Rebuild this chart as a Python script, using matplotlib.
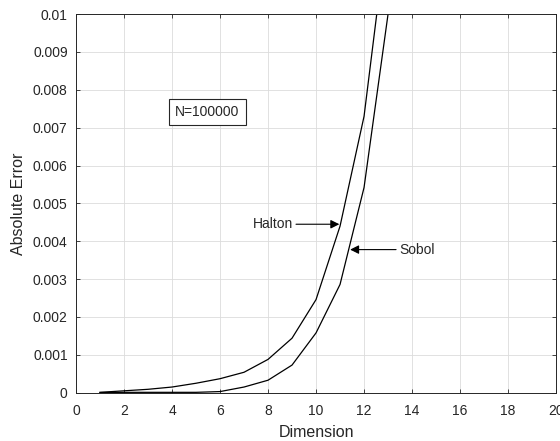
import matplotlib
matplotlib.use("Agg")
import matplotlib.pyplot as plt

plt.rcParams["font.family"] = ["Liberation Sans", "DejaVu Sans"]

# valores (erro absoluto por dimensao, N=100000)
dimensao = [1, 2, 3, 4, 5, 6, 7, 8, 9, 10, 11, 12, 13]
erro_halton = [0.00001, 0.00005, 0.00009, 0.00015, 0.00025, 0.00037, 0.00054,
               0.00088, 0.00144, 0.00246, 0.0044, 0.0073, 0.0124]
erro_sobol = [0.000005, 0.00001, 0.00001, 0.00001, 0.00001, 0.00003, 0.00015,
              0.00033, 0.00073, 0.00158, 0.00286, 0.00542, 0.0100]

xticks = [0, 2, 4, 6, 8, 10, 12, 14, 16, 18, 20]
yticks = [0, 0.001, 0.002, 0.003, 0.004, 0.005, 0.006, 0.007, 0.008, 0.009, 0.01]
ytick_labels = ["0", "0.001", "0.002", "0.003", "0.004", "0.005", "0.006",
                "0.007", "0.008", "0.009", "0.01"]

ESCURO = "#262626"

fig = plt.figure(figsize=(5.6, 4.41), dpi=100)
ax = fig.add_axes([0.1357, 0.1095, 0.8573, 0.8585])

ax.plot(dimensao, erro_halton, color="black", linewidth=0.9)
ax.plot(dimensao, erro_sobol, color="black", linewidth=0.9)

ax.set_xlim(0, 20)
ax.set_ylim(0, 0.01)
ax.set_xticks(xticks)
ax.set_yticks(yticks)
ax.set_yticklabels(ytick_labels)
ax.grid(True, color="#dcdcdc", linewidth=0.6)
ax.set_axisbelow(True)
ax.tick_params(direction="in", top=True, right=True, length=3,
               labelsize=10, colors=ESCURO, width=0.6, pad=6)
ax.tick_params(axis="x", pad=8)
for s in ax.spines.values():
    s.set_color(ESCURO)
    s.set_linewidth(0.7)

ax.set_xlabel("Dimension", fontsize=11.5, color=ESCURO, labelpad=5)
ax.set_ylabel("Absolute Error", fontsize=11.5, color=ESCURO, labelpad=5)

ax.text(5.48, 0.00742, "N=100000", ha="center", va="center", fontsize=10,
        color=ESCURO,
        bbox=dict(boxstyle="square,pad=0.45", facecolor="white",
                  edgecolor=ESCURO, linewidth=0.8))

seta = dict(arrowstyle="-|>", color="black", linewidth=0.8,
            mutation_scale=13, shrinkA=0, shrinkB=0)
ax.annotate("Halton", xy=(10.97, 0.00445), xytext=(9.05, 0.00445),
            ha="right", va="center", fontsize=10, color=ESCURO,
            arrowprops=seta)
ax.annotate("Sobol", xy=(11.42, 0.00378), xytext=(13.45, 0.00378),
            ha="left", va="center", fontsize=10, color=ESCURO,
            arrowprops=seta)

fig.savefig("out.png", dpi=100, facecolor="white")
